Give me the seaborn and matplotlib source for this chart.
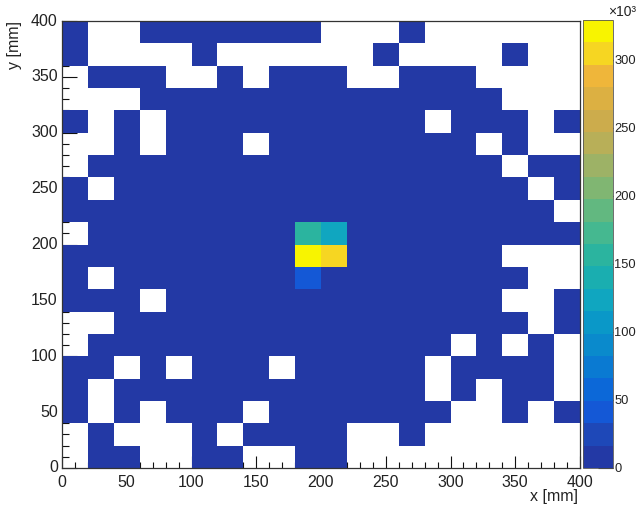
import numpy as np
import pandas as pd
import matplotlib
matplotlib.use("Agg")
import matplotlib.pyplot as plt
import seaborn as sns
from matplotlib.colors import ListedColormap
from matplotlib.ticker import MultipleLocator

sns.set_style("white")
plt.rcParams["font.family"] = ["Liberation Sans Narrow", "Liberation Sans", "DejaVu Sans"]

# Occupancy of the 20 x 20 grid of 20 mm cells, top row (y = 380-400 mm) first.
# '#' = cell with a low count, '.' = empty cell.
occupancy_rows = [
    "#..#######...#......",
    "#....#......#....#..",
    ".###..#.###..###....",
    "...##############...",
    "#.#.##########.###.#",
    "..#.###.########.#..",
    ".################.##",
    "#.################.#",
    "###################.",
    ".###################",
    "#################...",
    "#.################..",
    "###.#############..#",
    "..################.#",
    ".##############.#.#.",
    "##.#.###.#####.####.",
    "#.############.#.##.",
    "#.#.###.#######..#.#",
    ".#...#.####..#......",
    ".##..##..##.........",
]
low_count = 6

# Cells around the beam centre (cell centres in mm) and their counts
hot_x = [190, 210, 190, 210, 190]
hot_y = [210, 210, 190, 190, 170]
hot_z = [160, 122, 329, 306, 40]

bin_width = 20
n_bins = 20
z_max = 329.4

x_centers = np.arange(n_bins) * bin_width + bin_width / 2
y_centers = np.arange(n_bins) * bin_width + bin_width / 2

counts = np.array([[low_count if c == "#" else 0 for c in row] for row in occupancy_rows[::-1]],
                  dtype=float)
for hx, hy, hz in zip(hot_x, hot_y, hot_z):
    counts[int(hy // bin_width), int(hx // bin_width)] = hz

df = pd.DataFrame(counts, index=y_centers, columns=x_centers)

palette = ["#2339a5", "#1e48b8", "#1458d6", "#0c68d8", "#0a7ad2", "#0a8acc", "#0a98c8",
           "#10a6c0", "#1aaeb0", "#2bb49f", "#45b890", "#62b880", "#80b672", "#9db266",
           "#b8af58", "#ccac4c", "#dcb042", "#efb63a", "#f6d622", "#f8f400"]
cmap = ListedColormap(palette)

W, H = 638, 516
fig = plt.figure(figsize=(W / 100, H / 100), dpi=100)
ax = fig.add_axes([62 / W, (H - 468) / H, (580 - 62) / W, (468 - 21) / H])
cax = fig.add_axes([583 / W, (H - 468) / H, 30 / W, (468 - 20) / H])

sns.heatmap(df, mask=(df == 0), cmap=cmap, vmin=0, vmax=z_max, ax=ax, cbar_ax=cax,
            linewidths=0, square=False)
ax.set_ylim(0, n_bins)
ax.set_xlim(0, n_bins)

tick_font = dict(fontsize=11.5, color="#222222")
major_mm = np.arange(0, 401, 50)
ax.set_xticks(major_mm / bin_width)
ax.set_xticklabels([str(v) for v in major_mm], rotation=0, **tick_font)
ax.set_yticks(major_mm / bin_width)
ax.set_yticklabels([str(v) for v in major_mm], rotation=0, **tick_font)
ax.xaxis.set_minor_locator(MultipleLocator(10 / bin_width))
ax.yaxis.set_minor_locator(MultipleLocator(10 / bin_width))
ax.tick_params(axis="x", which="major", direction="in", length=8.5, width=0.8, pad=5,
               bottom=True, top=False, color="#111111")
ax.tick_params(axis="x", which="minor", direction="in", length=4, width=0.8,
               bottom=True, top=False, color="#111111")
ax.tick_params(axis="y", which="major", direction="in", length=11, width=0.8, pad=3,
               left=True, right=False, color="#111111")
ax.tick_params(axis="y", which="minor", direction="in", length=5, width=0.8,
               left=True, right=False, color="#111111")
ax.set_xlabel("")
ax.set_ylabel("")
for spine in ax.spines.values():
    spine.set_visible(True)
    spine.set_color("#333333")
    spine.set_linewidth(0.9)

cbar = ax.collections[0].colorbar
cbar.set_ticks(np.arange(0, 301, 50))
cbar.set_ticklabels([str(v) for v in range(0, 301, 50)])
cax.tick_params(direction="in", length=11, width=0.8, pad=1, right=True, left=False,
                labelsize=9.3, labelcolor="#222222", color="#111111")
cbar.outline.set_linewidth(0.6)
cbar.outline.set_edgecolor("#555555")

fig.text(578 / W, 1 - 497 / H, "x [mm]", ha="right", va="center", fontsize=11.5, color="#222222")
fig.text(14 / W, 1 - 21 / H, "y [mm]", ha="center", va="top", rotation=90, fontsize=11.5,
         color="#222222")
fig.text(636 / W, 1 - 12 / H, "×10³", ha="right", va="center", fontsize=10, color="#222222")

fig.savefig("out.png", dpi=100)
